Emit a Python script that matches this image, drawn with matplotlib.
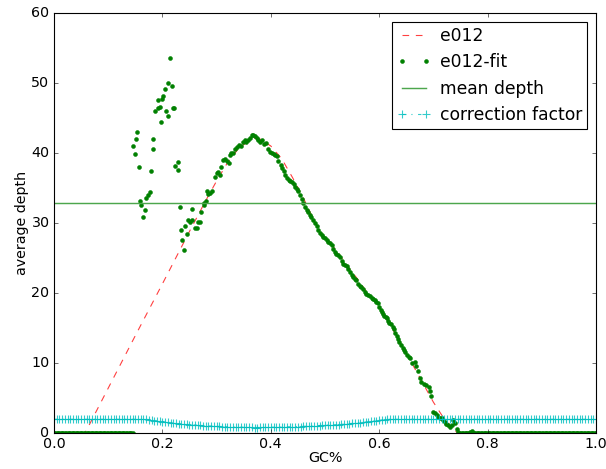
import numpy as np
import matplotlib
matplotlib.use("Agg")
import matplotlib.pyplot as plt

plt.style.use("classic")
plt.rcParams["font.size"] = 12.8

# e012 curve (red dashed)
fit_gc = [0.0, 0.057, 0.06, 0.10, 0.15, 0.20, 0.25, 0.28, 0.30, 0.32, 0.34, 0.36, 0.37,
          0.38, 0.40, 0.42, 0.44, 0.46, 0.48, 0.50, 0.52, 0.54, 0.56, 0.58, 0.60,
          0.62, 0.64, 0.66, 0.68, 0.70, 0.72, 0.74, 0.745, 1.0]
fit_depth = [0.0, 0.0, 0.4, 6.4, 13.9, 21.3, 28.8, 33.2, 36.0, 38.6, 40.6, 41.8, 42.1,
             42.0, 41.0, 39.2, 36.5, 33.6, 30.3, 27.8, 26.2, 24.0, 22.0, 19.8, 18.0,
             15.5, 12.8, 10.0, 7.2, 4.4, 2.0, 0.3, 0.0, 0.0]

# e012-fit points (green dots)
zero_left_gc = np.arange(0.0, 0.1475, 0.0025)
zero_right_gc = np.arange(0.75, 1.0001, 0.0025)

pts_gc = [0.146, 0.149, 0.151, 0.154, 0.156, 0.159, 0.161, 0.164, 0.168, 0.170,
          0.173, 0.177, 0.179, 0.182, 0.183, 0.186, 0.191, 0.192, 0.196, 0.197,
          0.200, 0.202, 0.205, 0.206, 0.210, 0.211, 0.214, 0.218, 0.219, 0.222,
          0.224, 0.228, 0.229, 0.232, 0.234, 0.237, 0.239, 0.242, 0.245, 0.247,
          0.251, 0.254, 0.255, 0.261, 0.264, 0.266, 0.269, 0.272, 0.276, 0.277,
          0.280, 0.282, 0.285, 0.288, 0.291, 0.297, 0.300, 0.303, 0.306, 0.309,
          0.312, 0.316, 0.319, 0.322, 0.324,
          0.327, 0.331, 0.334, 0.338, 0.342, 0.345, 0.348, 0.352, 0.355, 0.358,
          0.362, 0.365, 0.368, 0.371, 0.374, 0.377, 0.381, 0.384, 0.388, 0.392,
          0.395, 0.398, 0.402, 0.405, 0.408, 0.411, 0.414, 0.418, 0.421, 0.424,
          0.427, 0.430, 0.433, 0.436, 0.439, 0.442, 0.445, 0.448, 0.451, 0.454,
          0.457, 0.460, 0.463, 0.466, 0.469, 0.472, 0.475, 0.478, 0.481, 0.485,
          0.488, 0.491, 0.494, 0.497, 0.500, 0.503, 0.506, 0.509, 0.512, 0.515,
          0.518, 0.521, 0.524, 0.528, 0.531, 0.534, 0.537, 0.540, 0.543, 0.546,
          0.549, 0.552, 0.555, 0.558, 0.561, 0.564, 0.567, 0.570, 0.573, 0.576,
          0.580, 0.583, 0.586, 0.589, 0.592, 0.595, 0.597, 0.600, 0.603, 0.605,
          0.607, 0.609, 0.612, 0.614, 0.617, 0.619, 0.622, 0.625, 0.627, 0.630,
          0.632, 0.635, 0.637, 0.640, 0.643, 0.645, 0.648, 0.652, 0.655, 0.657,
          0.661, 0.666, 0.668, 0.671, 0.675, 0.678, 0.682, 0.687, 0.691, 0.694,
          0.696, 0.700, 0.703, 0.706, 0.709, 0.712, 0.715, 0.718, 0.721, 0.724,
          0.727, 0.731, 0.734, 0.737, 0.740, 0.743, 0.746, 0.768, 0.771]
pts_depth = [41.0, 39.9, 42.0, 43.0, 38.0, 33.2, 32.5, 30.9, 31.8, 33.5,
             34.0, 34.4, 37.4, 40.5, 42.0, 46.0, 46.4, 47.5, 46.6, 44.4,
             47.7, 48.2, 49.2, 46.0, 45.3, 50.0, 53.5, 49.5, 46.4, 46.4,
             38.1, 38.7, 37.6, 32.3, 29.0, 27.5, 26.1, 29.6, 28.4, 30.4,
             30.2, 30.4, 32.0, 29.3, 29.3, 30.2, 30.2, 31.6, 32.5, 32.8,
             33.1, 34.5, 34.1, 34.3, 34.6, 36.5, 37.1, 37.3, 36.9, 38.0,
             39.0, 39.2, 38.8, 38.5, 39.7,
             40.0, 40.0, 40.6, 40.9, 41.2, 41.0, 41.5, 41.8, 41.6, 41.9,
             42.2, 42.5, 42.6, 42.4, 42.1, 41.8, 41.5, 41.9, 41.3, 41.4,
             40.6, 40.2, 40.0, 39.8, 39.7, 39.5, 38.8, 38.3, 37.9, 37.4,
             36.9, 36.4, 36.1, 36.0, 35.9, 35.6, 35.2, 34.8, 34.5, 34.0,
             33.4, 32.8, 32.3, 31.9, 31.5, 31.1, 30.8, 30.4, 30.0, 29.5,
             29.0, 28.6, 28.3, 28.0, 27.8, 27.5, 27.3, 27.1, 26.8, 26.3,
             25.9, 25.6, 25.4, 25.2, 24.6, 24.2, 24.0, 23.8, 23.4, 23.0,
             22.6, 22.3, 22.0, 21.8, 21.3, 21.0, 20.8, 20.5, 20.2, 19.9,
             19.7, 19.5, 19.3, 19.2, 19.0, 18.7, 18.5, 18.0, 17.6, 17.3,
             17.0, 16.7, 16.6, 16.4, 16.0, 15.7, 15.5, 15.1, 14.9, 14.3,
             13.8, 13.4, 13.0, 12.6, 12.1, 11.9, 11.6, 11.1, 10.9, 10.7,
             10.0, 10.2, 9.5, 8.9, 7.9, 7.3, 7.0, 6.9, 6.6, 6.0,
             5.3, 3.0, 2.8, 2.5, 2.3, 2.2, 2.1, 1.8, 1.6, 1.3,
             1.1, 0.9, 1.2, 1.9, 1.4, 0.6, 0.2, 0.2, 0.3]

mean_depth = 32.8

# correction factor, one value per 0.005 of GC
corr_mid = [1.92, 1.85, 1.78, 1.72, 1.66, 1.60, 1.55, 1.50, 1.45, 1.41,
            1.37, 1.33, 1.29, 1.25, 1.22, 1.19, 1.16, 1.13, 1.10, 1.08,
            1.05, 1.03, 1.01, 0.99, 0.97, 0.95, 0.93, 0.91, 0.89, 0.88,
            0.86, 0.85, 0.84, 0.83, 0.82, 0.81, 0.80, 0.79, 0.79, 0.78,
            0.78, 0.79, 0.79, 0.79, 0.80, 0.80, 0.81, 0.82, 0.83, 0.84,
            0.85, 0.86, 0.87, 0.88, 0.89, 0.91, 0.92, 0.94, 0.96, 0.98,
            1.00, 1.02, 1.04, 1.06, 1.08, 1.10, 1.12, 1.14, 1.16, 1.18,
            1.21, 1.24, 1.27, 1.30, 1.33, 1.36, 1.40, 1.44, 1.48, 1.52,
            1.57, 1.62, 1.67, 1.72, 1.77, 1.82, 1.87, 1.92]
corr = [1.95] * 35 + corr_mid
corr = corr + [1.95] * (201 - len(corr))
corr_gc = np.linspace(0.0, 1.0, len(corr))

fig = plt.figure(figsize=(6.06 / 0.8, 4.69 / 0.8), dpi=80, facecolor="white")
ax = fig.add_axes([0.0891, 0.0768, 0.8944, 0.8955])

ax.plot(fit_gc, fit_depth, "r--", alpha=0.75, label="e012")
gc_all = np.concatenate([zero_left_gc, pts_gc, zero_right_gc])
depth_all = np.concatenate([np.zeros(len(zero_left_gc)), pts_depth,
                            np.zeros(len(zero_right_gc))])
ax.plot(gc_all, depth_all, "g.", markersize=7, label="e012-fit")
ax.axhline(mean_depth, color=(0.3, 0.65, 0.3), lw=1.3, label="mean depth")
ax.plot(corr_gc, corr, "-.+", color="c", markersize=8, mew=1.0, alpha=0.8,
        label="correction factor")

ax.set_xlim(0, 1)
ax.set_ylim(0, 60)
ax.set_xlabel("GC%", labelpad=0)
ax.set_ylabel("average depth", labelpad=2)
ax.legend(loc="upper right", borderpad=0.3, handletextpad=0.5)

fig.savefig("out.png", dpi=80, facecolor="white")
